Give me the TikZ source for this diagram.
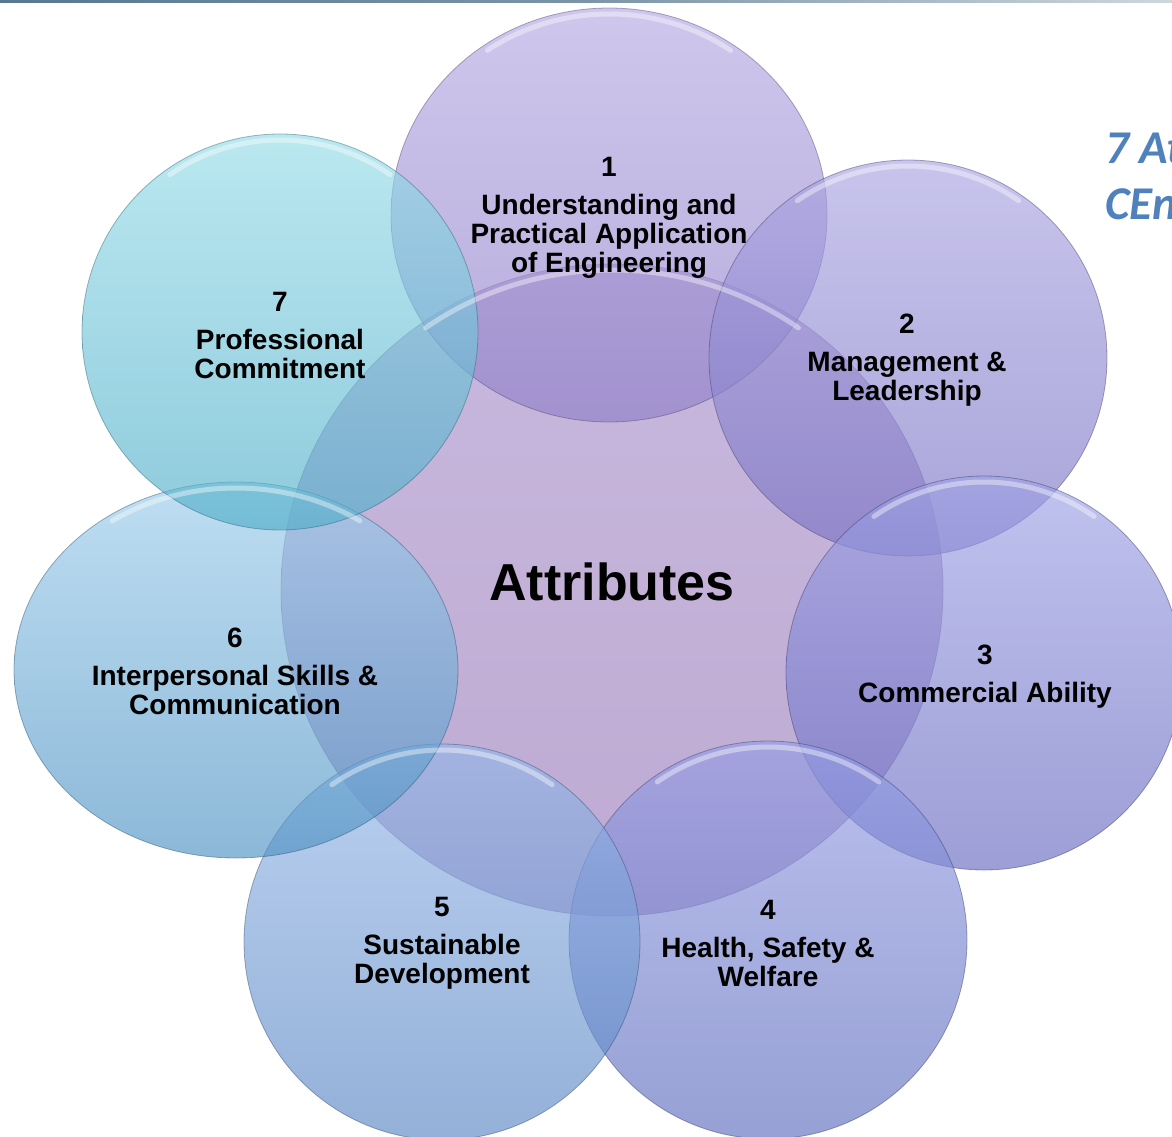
\documentclass[tikz,border=0pt]{standalone}
\usepackage{fontspec}
\setmainfont{Liberation Sans}
\newfontfamily\calfont{Carlito}
\usetikzlibrary{shapes.geometric}

\definecolor{c0t}{RGB}{200,184,222}
\definecolor{c0m}{RGB}{218,206,234}
\definecolor{c0b}{RGB}{190,170,210}
\definecolor{c1t}{RGB}{180,168,226}
\definecolor{c1b}{RGB}{143,127,201}
\definecolor{c2t}{RGB}{170,164,226}
\definecolor{c2b}{RGB}{121,115,195}
\definecolor{c3t}{RGB}{158,161,229}
\definecolor{c3b}{RGB}{103,106,192}
\definecolor{c4t}{RGB}{149,158,229}
\definecolor{c4b}{RGB}{94,109,189}
\definecolor{c5t}{RGB}{149,183,232}
\definecolor{c5b}{RGB}{90,134,195}
\definecolor{c6t}{RGB}{155,204,235}
\definecolor{c6b}{RGB}{78,146,195}
\definecolor{c7t}{RGB}{149,220,232}
\definecolor{c7b}{RGB}{81,174,201}
\definecolor{barl}{RGB}{88,120,144}
\definecolor{barr}{RGB}{205,215,222}
\definecolor{titleblue}{HTML}{4F81BD}

\begin{document}
\begin{tikzpicture}[x=1pt, y=-1pt,
  bubble/.style={ellipse, inner sep=0pt, top color=#1t, bottom color=#1b,
    fill opacity=.65, draw=#1b!55!black, draw opacity=.45, line width=.8pt},
  rim/.style={white, line width=5pt, opacity=.4, line cap=round},
  lbl/.style={align=center, font=\bfseries\fontsize{28}{29}\selectfont},
  ttl/.style={anchor=base west, inner sep=0pt, text=titleblue,
    font=\calfont\bfseries\itshape\fontsize{47}{50}\selectfont}]
\useasboundingbox (0,0) rectangle (1172,1137);
\shade[left color=barl, right color=barr, middle color=barl!70!barr]
  (0,0) rectangle (1172,3);

\node[ellipse, inner sep=0pt, minimum width=662pt, minimum height=652pt,
  top color=c0t, middle color=c0m, bottom color=c0b,
  draw=c0b!55!black, draw opacity=.45, line width=.8pt] (att) at (612,590) {};
\node[bubble=c1, minimum width=436pt, minimum height=414pt] (b1) at (609,215) {};
\node[bubble=c2, minimum width=398pt, minimum height=396pt] (b2) at (908,358) {};
\node[bubble=c3, minimum width=396pt, minimum height=394pt] (b3) at (984,673) {};
\node[bubble=c4, minimum width=398pt, minimum height=398pt] (b4) at (768,940) {};
\node[bubble=c5, minimum width=396pt, minimum height=396pt] (b5) at (442,942) {};
\node[bubble=c6, minimum width=444pt, minimum height=376pt] (b6) at (236,670) {};
\node[bubble=c7, minimum width=396pt, minimum height=396pt] (b7) at (280,332) {};

% glassy top rims
\foreach \n/\rx/\ry in {att/325/320, b1/212/201, b2/193/192, b3/192/191,
    b4/193/193, b5/192/192, b6/216/182, b7/192/192}
  \draw[rim] (\n.center) ++(125:\rx pt and \ry pt)
    arc[start angle=125, end angle=55, x radius=\rx pt, y radius=\ry pt];

\node[font=\bfseries\fontsize{52}{56}\selectfont] (attl) at (612,582) {Attributes};
\node[lbl] (l1) at (609,218) {1\\[9pt]Understanding and\\Practical Application\\of Engineering};
\node[lbl] (l2) at (907,360) {2\\[9pt]Management \&\\Leadership};
\node[lbl] (l3) at (985,677) {3\\[9pt]Commercial Ability};
\node[lbl] (l4) at (768,943) {4\\[9pt]Health, Safety \&\\Welfare};
\node[lbl] (l5) at (442,943) {5\\[9pt]Sustainable\\Development};
\node[lbl] (l6) at (235,671) {6\\[9pt]Interpersonal Skills \&\\Communication};
\node[lbl] (l7) at (280,336) {7\\[9pt]Professional\\Commitment};

\node[ttl] (ttl1) at (1105,163) {7 Att};
\node[ttl] (ttl2) at (1105,219) {CEng};
\end{tikzpicture}
\end{document}
